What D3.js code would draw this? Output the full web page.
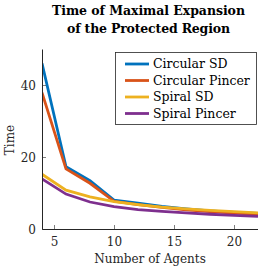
<!DOCTYPE html>
<html><head><meta charset="utf-8">
<script src="https://cdn.jsdelivr.net/npm/d3@7/dist/d3.min.js"></script>
<style>body{margin:0;background:#fff}svg{display:block}text{font-family:"DejaVu Serif","Liberation Serif",serif}</style>
</head><body>
<script>
const agents = [4, 6, 8, 10, 12, 14, 16, 18, 20, 22];
const circularSD = [46.0, 17.3, 13.4, 8.0, 7.2, 6.3, 5.6, 5.0, 4.6, 4.3];
const circularPincer = [37.9, 16.7, 12.7, 7.7, 6.8, 6.0, 5.3, 4.8, 4.4, 4.1];
const spiralSD = [15.2, 10.8, 8.9, 7.6, 6.8, 6.1, 5.6, 5.2, 4.8, 4.5];
const spiralPincer = [13.9, 9.7, 7.5, 6.2, 5.4, 4.9, 4.5, 4.1, 3.8, 3.5];
const seriesNames = ["Circular SD", "Circular Pincer", "Spiral SD", "Spiral Pincer"];
const seriesColors = ["#0072BD", "#D95319", "#EDB120", "#7E2F8E"];
const xTicks = [5, 10, 15, 20];
const yTicks = [0, 20, 40];
const titleLines = ["Time of Maximal Expansion", "of the Protected Region"];

const W = 258, H = 270;
const m = {l: 42, r: 0, t: 49, b: 41};
const svg = d3.select("body").append("svg").attr("width", W).attr("height", H);
const x = d3.scaleLinear().domain([4, 22]).range([m.l, W - m.r]);
const y = d3.scaleLinear().domain([0, 50]).range([H - m.b, m.t]);

const allSeries = [circularSD, circularPincer, spiralSD, spiralPincer];
const line = d3.line().x((d, i) => x(agents[i])).y(d => y(d));
const clip = svg.append("clipPath").attr("id", "c").append("rect")
  .attr("x", m.l).attr("y", m.t - 5).attr("width", W - m.l).attr("height", H - m.b - m.t + 5);
allSeries.forEach((s, k) => {
  svg.append("path").datum(s).attr("d", line).attr("fill", "none")
    .attr("stroke", seriesColors[k]).attr("stroke-width", 2.8).attr("clip-path", "url(#c)");
});

const gx = svg.append("g").attr("transform", `translate(0,${H - m.b})`)
  .call(d3.axisBottom(x).tickValues(xTicks).tickSizeInner(-4).tickSizeOuter(0).tickPadding(8));
const gy = svg.append("g").attr("transform", `translate(${m.l},0)`)
  .call(d3.axisLeft(y).tickValues(yTicks).tickSizeInner(-4).tickSizeOuter(0).tickPadding(6));
[gx, gy].forEach(g => {
  g.select(".domain").attr("stroke", "#262626").attr("stroke-width", 1);
  g.selectAll(".tick line").attr("stroke", "#262626").attr("stroke-width", 0.6);
  g.selectAll(".tick text").attr("font-size", 12).attr("fill", "#262626")
    .style("font-family", '"DejaVu Serif","Liberation Serif",serif');
});
gy.selectAll(".tick text").attr("dy", "0.35em");

svg.append("text").attr("x", 150).attr("y", 263).attr("text-anchor", "middle")
  .attr("font-size", 12).attr("fill", "#262626").text("Number of Agents");
svg.append("text").attr("transform", "translate(14,140) rotate(-90)").attr("text-anchor", "middle")
  .attr("font-size", 12).attr("fill", "#262626").text("Time");

const titleWidths = [193, 163];
titleLines.forEach((t, i) => {
  svg.append("text").attr("x", 148.5).attr("y", 14.5 + i * 18).attr("text-anchor", "middle")
    .attr("font-size", 12.5).attr("font-weight", "bold").attr("fill", "#000")
    .attr("textLength", titleWidths[i]).attr("lengthAdjust", "spacing").text(t);
});

const lg = svg.append("g");
lg.append("rect").attr("x", 115.5).attr("y", 52.5).attr("width", 141).attr("height", 72)
  .attr("fill", "#fff").attr("stroke", "#262626").attr("stroke-width", 0.8);
seriesNames.forEach((n, k) => {
  const yy = 64 + k * 16.5;
  lg.append("line").attr("x1", 125).attr("x2", 149).attr("y1", yy).attr("y2", yy)
    .attr("stroke", seriesColors[k]).attr("stroke-width", 2.8);
  lg.append("text").attr("x", 153).attr("y", yy).attr("dy", "0.35em")
    .attr("font-size", 12.5).attr("fill", "#000").text(n);
});
</script>
</body></html>
